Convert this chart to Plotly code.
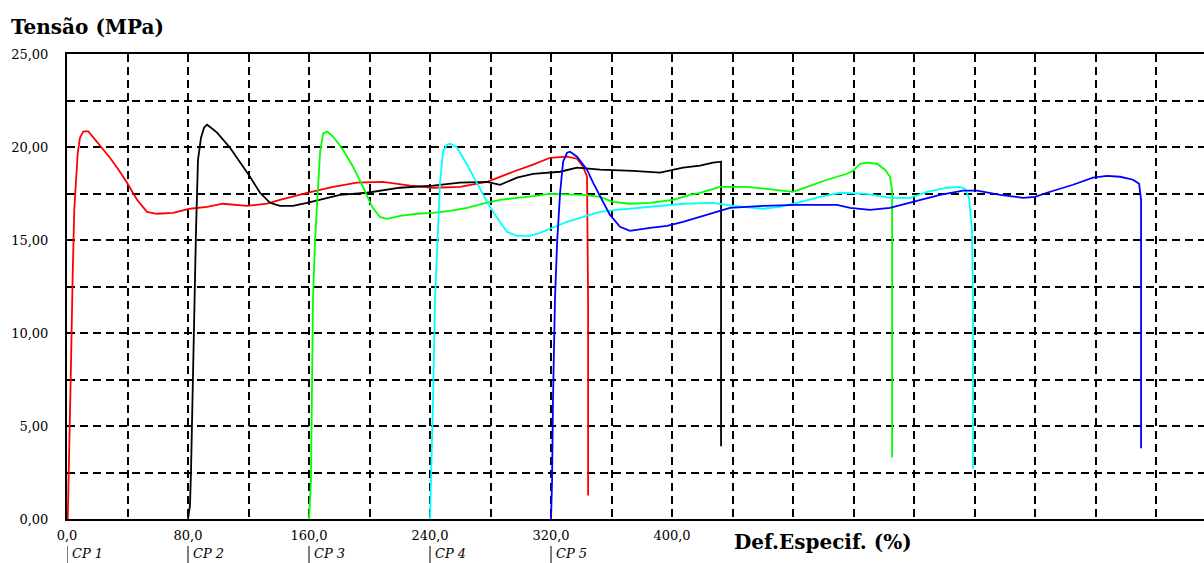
import plotly.graph_objects as go

# Specimen names and curve colours
specimens = ["CP 1", "CP 2", "CP 3", "CP 4", "CP 5"]
colors = ["#FF0000", "#000000", "#00FF00", "#00FFFF", "#0000FF"]
# Each specimen curve is shifted along the strain axis by this step (%)
offset_step = 80.0

# Strain (%) of each specimen, measured from its own start
strain_cp1 = [0.5, 1.3, 2.6, 3.8, 4.8, 6.0, 7.1, 8.6, 10.8, 14.1,
              20.5, 28.4, 35.0, 39.7, 46.3, 52.9, 59.5, 70.1, 81.3, 92.6, 103.1,
              119.0, 132.2, 140.8, 158.7, 175.9, 191.7, 208.9, 226.8, 242.0, 259.8,
              277.7, 294.9, 308.1, 319.3, 330.6, 337.2, 341.2, 343.8, 344.5, 344.5]
stress_cp1 = [0, 3.85, 8.16, 13.28, 16.62, 18.24, 19.69, 20.50, 20.84, 20.84,
              20.23, 19.42, 18.67, 18.08, 17.16, 16.51, 16.41, 16.46, 16.68, 16.78, 16.95,
              16.84, 16.95, 17.16, 17.54, 17.86, 18.08, 18.13, 17.92, 17.81, 17.86,
              18.13, 18.67, 19.05, 19.42, 19.48, 19.37, 18.94, 18.40, 11.77, 1.27]

strain_cp2 = [0, 1.3, 2.0, 3.3, 4.0, 5.3, 6.6, 8.6, 10.6, 12.6,
              15.2, 19.2, 27.8, 34.4, 41.0, 47.6, 54.2, 60.8, 69.4, 78.7,
              89.3, 100.5, 118.3, 140.2, 162.0, 179.8, 197.7, 206.3, 217.5, 228.1,
              246.0, 257.2, 272.4, 294.2, 312.1, 327.3, 338.5, 347.1, 352.4, 352.4]
stress_cp2 = [0, 0.73, 2.61, 7.46, 11.77, 15.54, 19.31, 20.50, 21.04, 21.20,
              21.04, 20.77, 19.96, 19.21, 18.40, 17.54, 17.00, 16.84, 16.84, 17.00,
              17.21, 17.43, 17.54, 17.81, 17.92, 18.08, 18.13, 17.97, 18.35, 18.56,
              18.67, 18.89, 18.78, 18.72, 18.62, 18.89, 19.00, 19.16, 19.21, 3.91]

strain_cp3 = [0, 1.3, 2.6, 4.0, 6.0, 7.3, 9.3, 11.9, 15.9, 22.5,
              29.1, 35.7, 41.7, 46.9, 51.6, 60.2, 71.4, 82.0, 93.2, 104.5,
              115.0, 126.3, 144.1, 159.3, 181.2, 192.4, 201.0, 212.2, 225.5, 240.7,
              251.9, 258.5, 271.7, 289.6, 302.8, 311.4, 320.0, 329.3, 342.5, 355.7,
              359.7, 364.3, 369.0, 375.5, 380.8, 384.1, 385.5, 385.5]
stress_cp3 = [0, 2.07, 11.77, 15.01, 17.86, 19.69, 20.72, 20.83, 20.56, 19.85,
              18.94, 17.86, 16.78, 16.24, 16.14, 16.30, 16.41, 16.46, 16.57, 16.73,
              16.95, 17.16, 17.32, 17.48, 17.43, 17.32, 17.05, 16.95, 17.00, 17.16,
              17.43, 17.54, 17.86, 17.86, 17.75, 17.65, 17.59, 17.86, 18.24, 18.56,
              18.72, 19.10, 19.16, 19.10, 18.78, 18.40, 17.70, 3.31]

strain_cp4 = [0, 0.7, 2.0, 3.3, 4.6, 6.6, 8.6, 11.2, 13.2, 17.9,
              24.5, 31.1, 37.7, 44.3, 50.9, 57.5, 66.1, 72.7, 81.3, 90.6,
              101.2, 112.4, 123.6, 145.5, 167.3, 187.1, 200.3, 220.2, 231.4, 242.6,
              257.9, 271.1, 288.9, 304.1, 317.4, 328.6, 341.8, 350.4, 353.7, 356.4,
              358.3, 359.0, 359.0]
stress_cp4 = [0, 2.07, 6.38, 11.77, 14.47, 18.08, 19.75, 20.12, 20.18, 19.96,
              19.05, 18.08, 17.05, 16.19, 15.44, 15.22, 15.22, 15.38, 15.65, 15.98,
              16.24, 16.51, 16.62, 16.78, 16.95, 17.00, 16.84, 16.68, 16.78, 17.00,
              17.32, 17.54, 17.48, 17.27, 17.27, 17.59, 17.81, 17.86, 17.75, 17.27,
              15.54, 11.77, 2.72]

strain_cp5 = [0, 0.7, 1.3, 2.6, 4.0, 6.0, 8.0, 10.6, 12.6, 17.2,
              23.8, 27.8, 33.7, 39.0, 45.6, 52.2, 65.5, 76.7, 87.3, 98.5,
              107.1, 118.3, 140.2, 162.6, 189.1, 197.7, 210.9, 224.1, 239.3, 257.2,
              272.4, 281.7, 296.9, 312.1, 320.0, 327.9, 345.1, 358.3, 367.6, 376.2,
              384.8, 388.8, 390.1, 390.1]
stress_cp5 = [0, 2.07, 6.38, 11.77, 14.84, 17.54, 19.21, 19.69, 19.75, 19.48,
              18.78, 18.08, 17.16, 16.35, 15.71, 15.49, 15.65, 15.76, 15.98, 16.24,
              16.46, 16.73, 16.84, 16.89, 16.89, 16.73, 16.62, 16.73, 17.05, 17.43,
              17.65, 17.65, 17.43, 17.27, 17.32, 17.54, 17.97, 18.35, 18.45, 18.40,
              18.24, 18.02, 17.16, 3.80]

strains = [strain_cp1, strain_cp2, strain_cp3, strain_cp4, strain_cp5]
stresses = [stress_cp1, stress_cp2, stress_cp3, stress_cp4, stress_cp5]

# Axis ticks: grid every 40 % / 2.5 MPa, labels on some of them
x_grid = list(range(0, 760, 40))
x_labelled = [0, 80, 160, 240, 320, 400]
y_grid = [i * 2.5 for i in range(11)]
y_labelled = [0, 5, 10, 15, 20, 25]


def fmt(v, decimals):
    return f"{v:.{decimals}f}".replace(".", ",")


x_text = [fmt(v, 1) if v in x_labelled else "" for v in x_grid]
y_text = [fmt(v, 2) if v in y_labelled else "" for v in y_grid]

serif = "DejaVu Serif"

fig = go.Figure()
offsets = []
for i, (name, col, sx, sy) in enumerate(zip(specimens, colors, strains, stresses)):
    off = i * offset_step
    offsets.append(off)
    fig.add_trace(go.Scatter(
        x=[v + off for v in sx], y=sy, mode="lines", name=name,
        line=dict(color=col, width=1.8), showlegend=False,
    ))

# Specimen markers below the strain axis
for name, off in zip(specimens, offsets):
    fig.add_shape(type="line", xref="x", yref="paper", x0=off, x1=off,
                  y0=-0.058, y1=-0.10, line=dict(color="#000000", width=1))
    fig.add_annotation(xref="x", yref="paper", x=off, y=-0.074, xshift=3,
                       text=f"<i>{name}</i>", showarrow=False,
                       xanchor="left", yanchor="middle",
                       font=dict(family=serif, size=13, color="#000000"))

fig.add_annotation(xref="paper", yref="paper", x=0.585, y=-0.05,
                   text="<b>Def.Especif. (%)</b>", showarrow=False,
                   xanchor="left", yanchor="middle",
                   font=dict(family=serif, size=20, color="#000000"))

fig.update_layout(
    width=1204, height=563,
    margin=dict(l=67, r=0, t=54, b=44),
    paper_bgcolor="#FFFFFF", plot_bgcolor="#FFFFFF",
    title=dict(text="<b>Tensão (MPa)</b>", xref="container", yref="container",
               x=11 / 1204, y=1 - 27 / 563, xanchor="left", yanchor="middle",
               font=dict(family=serif, size=20, color="#000000")),
    xaxis=dict(
        range=[0, 751.7], tickmode="array", tickvals=x_grid, ticktext=x_text,
        showgrid=True, gridcolor="#000000", gridwidth=1.5, griddash="8px,5px",
        zeroline=False, showline=True, linecolor="#000000", linewidth=2,
        mirror=True, ticks="", ticklabelstandoff=3,
        tickfont=dict(family=serif, size=13, color="#000000"),
    ),
    yaxis=dict(
        range=[0, 25], tickmode="array", tickvals=y_grid, ticktext=y_text,
        showgrid=True, gridcolor="#000000", gridwidth=1.5, griddash="8px,5px",
        zeroline=False, showline=True, linecolor="#000000", linewidth=2,
        mirror=False, ticks="", ticklabelstandoff=14,
        tickfont=dict(family=serif, size=13, color="#000000"),
    ),
)

fig.write_html("out.html")
